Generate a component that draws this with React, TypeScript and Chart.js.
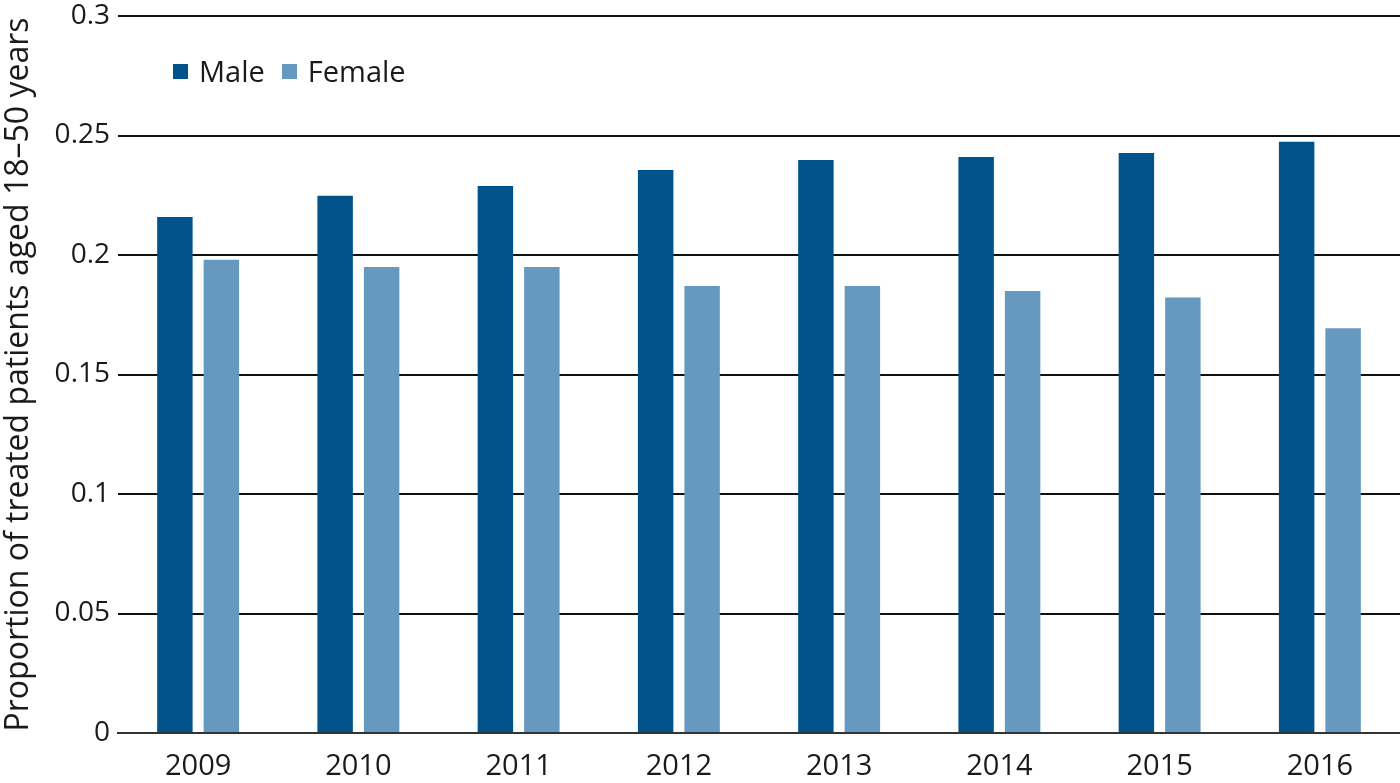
import React, { useEffect, useRef } from "react";
import { Chart, registerables } from "chart.js";

Chart.register(...registerables);

const categories = ["2009", "2010", "2011", "2012", "2013", "2014", "2015", "2016"];
const maleValues = [0.2159, 0.2248, 0.2289, 0.2356, 0.2397, 0.241, 0.2427, 0.2474];
const femaleValues = [0.198, 0.195, 0.195, 0.187, 0.187, 0.1849, 0.1822, 0.1693];
const seriesNames = ["Male", "Female"];
const seriesColors = ["#01538c", "#6699bf"];
const yTitle = "Proportion of treated patients aged 18–50 years";

const FONT = "'Open Sans', sans-serif";

export default function App() {
  const canvasRef = useRef<HTMLCanvasElement | null>(null);

  useEffect(() => {
    if (!canvasRef.current) return;
    const chart = new Chart(canvasRef.current, {
      type: "bar",
      data: {
        labels: categories,
        datasets: [
          {
            label: seriesNames[0],
            data: maleValues,
            backgroundColor: seriesColors[0],
            barPercentage: 0.763,
            categoryPercentage: 0.58,
          },
          {
            label: seriesNames[1],
            data: femaleValues,
            backgroundColor: seriesColors[1],
            barPercentage: 0.763,
            categoryPercentage: 0.58,
          },
        ],
      },
      options: {
        animation: false,
        responsive: false,
        devicePixelRatio: 1,
        layout: { padding: { top: 0, right: 0, left: 0, bottom: 0 } },
        plugins: {
          legend: { display: false },
          tooltip: { enabled: false },
        },
        scales: {
          x: {
            grid: { display: false },
            border: { display: true, color: "#333", width: 2 },
            ticks: {
              color: "#1a1a1a",
              font: { family: FONT, size: 29 },
              padding: 8,
              maxRotation: 0,
            },
            afterFit: (scale: any) => {
              scale.height = 50;
            },
          },
          y: {
            min: 0,
            max: 0.3,
            grid: { color: "#111", lineWidth: 2, drawTicks: false },
            border: { display: false },
            ticks: {
              stepSize: 0.05,
              color: "#1a1a1a",
              font: { family: FONT, size: 28, lineHeight: 1 },
              padding: 8,
              callback: (v: any) => Number(Number(v).toFixed(2)).toString(),
            },
            title: {
              display: true,
              text: yTitle,
              color: "#1a1a1a",
              font: { family: FONT, size: 32 },
              padding: { top: 0, bottom: 0 },
            },
            afterFit: (scale: any) => {
              scale.width = 118;
              scale.paddingTop = 16;
              scale.paddingBottom = 0;
            },
          },
        },
      },
    });
    return () => chart.destroy();
  }, []);

  const legendItem = (i: number) => (
    <div style={{ display: "flex", alignItems: "center", marginRight: 17 }}>
      <div style={{ width: 15, height: 15, background: seriesColors[i], marginRight: 11 }} />
      <span>{seriesNames[i]}</span>
    </div>
  );

  return (
    <div style={{ position: "absolute", left: 0, top: 0, width: 1400, height: 783, background: "#fff" }}>
      <canvas ref={canvasRef} width={1400} height={783} />
      <div
        style={{
          position: "absolute",
          left: 173,
          top: 51,
          display: "flex",
          fontFamily: FONT,
          fontSize: 29,
          color: "#1a1a1a",
          lineHeight: "40px",
        }}
      >
        {legendItem(0)}
        {legendItem(1)}
      </div>
    </div>
  );
}
